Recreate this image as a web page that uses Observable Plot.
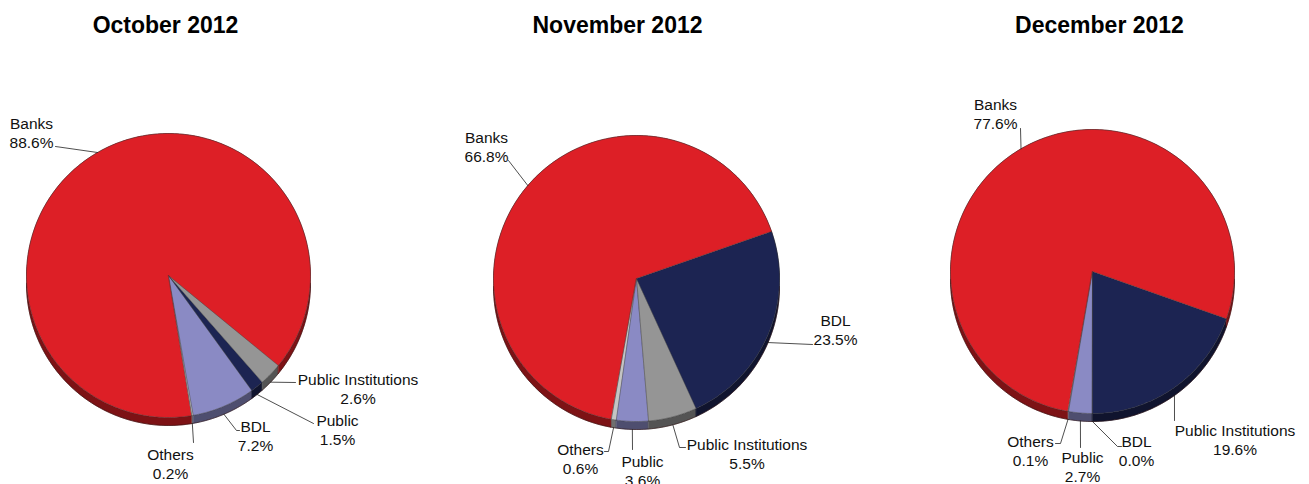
<!DOCTYPE html>
<html><head><meta charset="utf-8">
<script src="https://cdn.jsdelivr.net/npm/d3@7"></script>
<script src="https://cdn.jsdelivr.net/npm/@observablehq/plot@0.6"></script>
<style>body{margin:0;background:#fff}</style>
</head><body><div id="chart"></div>
<script>
// ---- data ----
const months = ["October 2012", "November 2012", "December 2012"];
const octCategories = ["Others", "BDL", "Public", "Public Institutions", "Banks"];
const octValues = [0.2, 7.2, 1.5, 2.6, 88.6];
const novCategories = ["Others", "Public", "Public Institutions", "BDL", "Banks"];
const novValues = [0.6, 3.6, 5.5, 23.5, 66.8];
const decCategories = ["Others", "Public", "BDL", "Public Institutions", "Banks"];
const decValues = [0.1, 2.7, 0.0, 19.6, 77.6];

// ---- styles ----
const RED = "#dd1f26", NAVY = "#1c2452", PURPLE = "#8a8ac4", GRAY = "#959595", LIGHT = "#c4c4c4";
const sliceFills = [
  {"Others": LIGHT, "BDL": PURPLE, "Public": NAVY, "Public Institutions": GRAY, "Banks": RED},
  {"Others": LIGHT, "Public": PURPLE, "Public Institutions": GRAY, "BDL": NAVY, "Banks": RED},
  {"Others": LIGHT, "Public": PURPLE, "BDL": GRAY, "Public Institutions": NAVY, "Banks": RED}
];

// ---- layout (pixels) ----
const W = 1309, H = 484, DEPTH = 8;
const pies = [
  {cx: 168, cy: 275, r: 142, start: 9.3, titleX: 165},
  {cx: 636, cy: 278, r: 143, start: -10.3, titleX: 617},
  {cx: 1092, cy: 271, r: 142, start: -10.1, titleX: 1099}
];
// label placement relative to pie centre: text block centre, leader end, optional stub end
const labelLayout = [
  {"Banks": {t: [-137, -143], e: [-113, -129]},
   "Public Institutions": {t: [189.5, 112.5], e: [127, 107]},
   "Public": {t: [169, 154], e: [145, 148]},
   "BDL": {t: [87, 160], e: [68, 155], s: [71, 155]},
   "Others": {t: [2, 187.5], e: [25, 167]}},
  {"Banks": {t: [-150, -132], e: [-128, -118]},
   "BDL": {t: [199, 51], e: [176, 66]},
   "Public Institutions": {t: [110.5, 174.5], e: [43, 169], s: [49, 169]},
   "Public": {t: [6, 192], e: [-4, 171]},
   "Others": {t: [-56, 179.5], e: [-28, 173], s: [-32, 173]}},
  {"Banks": {t: [-97, -158.5], e: [-72, -143]},
   "Public Institutions": {t: [142.5, 167.5], e: [82, 149]},
   "BDL": {t: [44, 179], e: [25, 175], s: [29, 175]},
   "Public": {t: [-10, 194.5], e: [-12, 176]},
   "Others": {t: [-62, 178.5], e: [-32, 172], s: [-37, 172]}}
];

const series = [
  {cats: octCategories, vals: octValues},
  {cats: novCategories, vals: novValues},
  {cats: decCategories, vals: decValues}
];

const rad = d => d * Math.PI / 180;
const pt = (p, a, dy = 0) => ({x: p.cx + p.r * Math.sin(rad(a)), y: p.cy + p.r * Math.cos(rad(a)) + dy});

const tops = [], sides = [], rims = [], leaders = [], labels = [], titles = [];
series.forEach((s, i) => {
  const p = pies[i];
  const total = d3.sum(s.vals);
  let a = p.start;
  titles.push({x: p.titleX, y: 25, text: months[i]});
  s.cats.forEach((c, j) => {
    const span = s.vals[j] / total * 360;
    const a0 = a, a1 = a + span;
    a = a1;
    const id = i + "-" + c;
    const fill = sliceFills[i][c];
    const side = d3.color(fill).darker(1.6).formatHex();
    const n = Math.max(2, Math.ceil(span));
    const arc = d3.range(n + 1).map(k => a0 + (a1 - a0) * k / n);
    // top face
    tops.push({id, fill, x: p.cx, y: p.cy});
    arc.forEach(t => { const q = pt(p, t); tops.push({id, fill, x: q.x, y: q.y}); });
    // side band
    arc.forEach(t => { const q = pt(p, t); sides.push({id, fill: side, x: q.x, y: q.y}); });
    arc.slice().reverse().forEach(t => { const q = pt(p, t, DEPTH); sides.push({id, fill: side, x: q.x, y: q.y}); });
    // label
    const L = labelLayout[i][c];
    const mid = (a0 + a1) / 2;
    const lower = Math.cos(rad(mid)) > 0;
    const st = pt(p, mid, lower ? DEPTH : 0);
    leaders.push({id, x: st.x, y: st.y});
    leaders.push({id, x: p.cx + L.e[0], y: p.cy + L.e[1]});
    if (L.s) leaders.push({id, x: p.cx + L.s[0], y: p.cy + L.s[1]});
    labels.push({x: p.cx + L.t[0], y: p.cy + L.t[1], text: `${c}\n${s.vals[j].toFixed(1)}%`});
  });
  // bottom rim outline
  d3.range(-90, 91, 1).forEach(t => { const q = pt(p, t, DEPTH); rims.push({id: i, x: q.x, y: q.y}); });
});

const chart = Plot.plot({
  width: W, height: H,
  margin: 0,
  x: {domain: [0, W], range: [0, W], axis: null},
  y: {domain: [0, H], range: [0, H], axis: null},
  color: {type: "identity"},
  style: {fontFamily: "'Liberation Sans', Arial, Helvetica, sans-serif", background: "#fff"},
  marks: [
    Plot.line(sides, {x: "x", y: "y", z: "id", fill: "fill", stroke: "fill", strokeWidth: 0.5, curve: "linear-closed"}),
    Plot.line(rims, {x: "x", y: "y", z: "id", stroke: "#2a0a0a", strokeWidth: 0.8, strokeOpacity: 0.7}),
    Plot.line(tops, {x: "x", y: "y", z: "id", fill: "fill", stroke: "#333", strokeWidth: 0.6, strokeOpacity: 0.7, curve: "linear-closed"}),
    Plot.line(leaders, {x: "x", y: "y", z: "id", stroke: "#222", strokeWidth: 0.8}),
    Plot.text(labels, {x: "x", y: "y", text: "text", fontSize: 15.5, lineHeight: 1.22, fill: "#111", textAnchor: "middle"}),
    Plot.text(titles, {x: "x", y: "y", text: "text", fontSize: 23, fontWeight: "bold", fill: "#000", textAnchor: "middle"})
  ]
});
document.getElementById("chart").append(chart);
</script>
</body></html>
